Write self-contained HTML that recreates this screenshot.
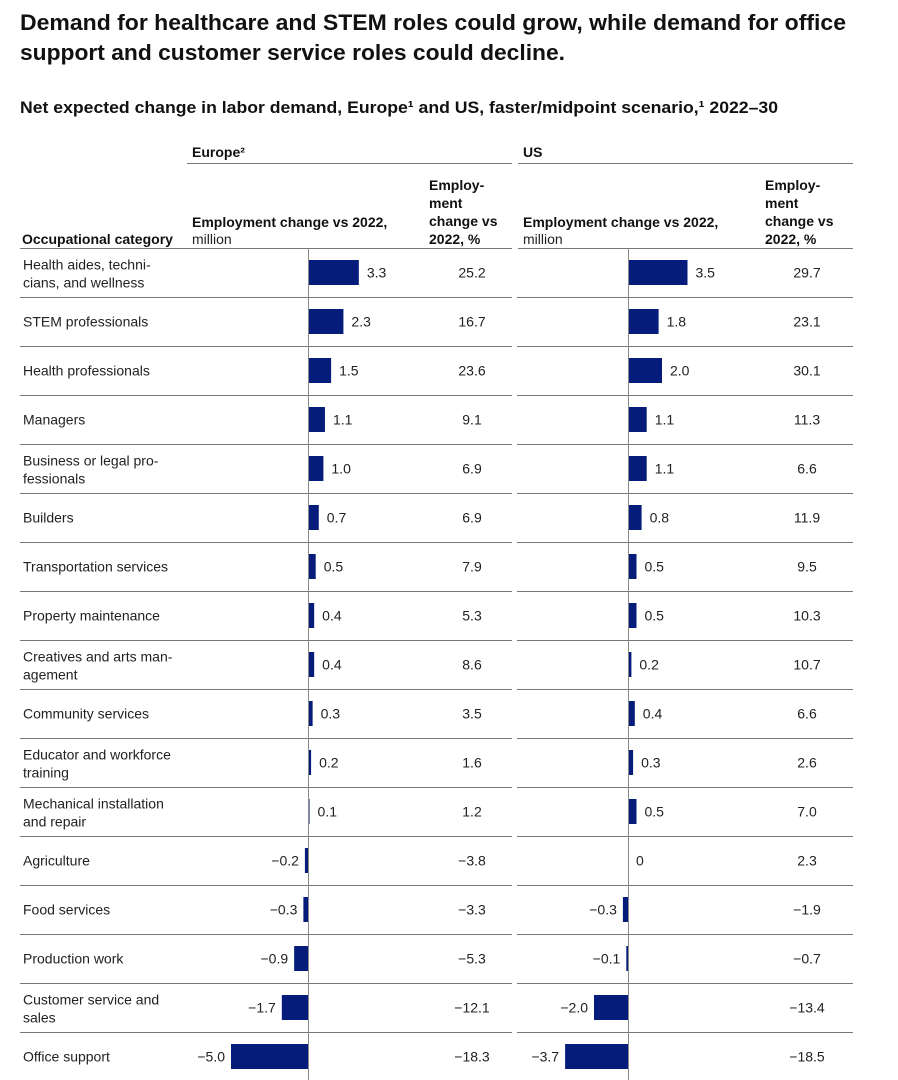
<!DOCTYPE html>
<html><head><meta charset="utf-8"><style>
html,body{margin:0;padding:0;background:#fff;}
svg{display:block;font-family:"Liberation Sans",Arial,sans-serif;}
</style></head><body>
<svg id="chart" width="898" height="1080" viewBox="0 0 898 1080">
<text x="20" y="30" font-size="22" font-weight="bold" fill="#111" textLength="826" lengthAdjust="spacingAndGlyphs">Demand for healthcare and STEM roles could grow, while demand for office</text>
<text x="20" y="60" font-size="22" font-weight="bold" fill="#111" textLength="545" lengthAdjust="spacingAndGlyphs">support and customer service roles could decline.</text>
<text x="20" y="113" font-size="17" font-weight="bold" fill="#111" textLength="758" lengthAdjust="spacingAndGlyphs">Net expected change in labor demand, Europe¹ and US, faster/midpoint scenario,¹ 2022–30</text>

<text x="192" y="157" font-size="14" font-weight="bold" fill="#111">Europe²</text>
<line x1="187" y1="163.5" x2="512" y2="163.5" stroke="#777"/>
<text x="523" y="157" font-size="14" font-weight="bold" fill="#111">US</text>
<line x1="518" y1="163.5" x2="853" y2="163.5" stroke="#777"/>

<text x="22" y="244" font-size="14" font-weight="bold" fill="#111">Occupational category</text>
<g>
<text x="192" y="227" font-size="14" font-weight="bold" fill="#111">Employment change vs 2022,</text>
<text x="192" y="244" font-size="14" fill="#222">million</text>
</g>
<g font-size="14" font-weight="bold" fill="#111">
<text x="429" y="190">Employ-</text><text x="429" y="208">ment</text><text x="429" y="226">change vs</text><text x="429" y="244">2022, %</text>
</g>
<g>
<text x="523" y="227" font-size="14" font-weight="bold" fill="#111">Employment change vs 2022,</text>
<text x="523" y="244" font-size="14" fill="#222">million</text>
</g>
<g font-size="14" font-weight="bold" fill="#111">
<text x="765" y="190">Employ-</text><text x="765" y="208">ment</text><text x="765" y="226">change vs</text><text x="765" y="244">2022, %</text>
</g>
<g id="rows"></g>
</svg>
<script>
const categories = [
 ["Health aides, techni-","cians, and wellness"],["STEM professionals"],["Health professionals"],["Managers"],
 ["Business or legal pro-","fessionals"],["Builders"],["Transportation services"],["Property maintenance"],
 ["Creatives and arts man-","agement"],["Community services"],["Educator and workforce","training"],
 ["Mechanical installation","and repair"],["Agriculture"],["Food services"],["Production work"],
 ["Customer service and","sales"],["Office support"]];
const europeAbs = [3.3,2.3,1.5,1.1,1.0,0.7,0.5,0.4,0.4,0.3,0.2,0.1,-0.2,-0.3,-0.9,-1.7,-5.0];
const europePct = [25.2,16.7,23.6,9.1,6.9,6.9,7.9,5.3,8.6,3.5,1.6,1.2,-3.8,-3.3,-5.3,-12.1,-18.3];
const usAbs = [3.5,1.8,2.0,1.1,1.1,0.8,0.5,0.5,0.2,0.4,0.3,0.5,0,-0.3,-0.1,-2.0,-3.7];
const usPct = [29.7,23.1,30.1,11.3,6.6,11.9,9.5,10.3,10.7,6.6,2.6,7.0,2.3,-1.9,-0.7,-13.4,-18.5];

const NS="http://www.w3.org/2000/svg";
const g=document.getElementById('rows');
const top0=248, rowH=49, barH=25;
const euZero=308, euScale=15.4, usZero=628, usScale=17;
const xEu=v=>euZero+v*euScale, xUs=v=>usZero+v*usScale;
const fmt=v=>(v<0?'\u2212':'')+Math.abs(v).toFixed(1).replace(/^0\.0$/,'0');
function el(tag,attrs,parent){const e=document.createElementNS(NS,tag);for(const k in attrs)e.setAttribute(k,attrs[k]);(parent||g).appendChild(e);return e;}
function txt(x,y,s,anchor,name){const t=el('text',{x:x,y:y,'font-size':14,fill:'#222','text-anchor':anchor||'start'});t.textContent=s;


return t;}
// header bottom rules
const h1=el('line',{x1:20,y1:top0+0.5,x2:512,y2:top0+0.5,stroke:'#777'});


const h2=el('line',{x1:518,y1:top0+0.5,x2:853,y2:top0+0.5,stroke:'#777'});


function barLabel(x0,scaleFn,v,cy,name){
  const x=scaleFn(v);
  const b=el('rect',{x:Math.min(x,x0),y:cy-barH/2,width:Math.max(Math.abs(x-x0),v===0?0:1.5),height:barH,fill:'#051c7a'});
  
  
  const s=v===0?'0':fmt(v);
  if(v>=0) txt(Math.max(x,x0)+8,cy+5,s,'start',name+'-value');
  else txt(x-6,cy+5,s,'end',name+'-value');
}
categories.forEach((c,i)=>{
  const cy=top0+rowH*i+24.5;
  if(c.length===1) txt(23,cy+5,c[0],'start','category-label');
  else {txt(23,cy-3,c[0],'start','category-label');txt(23,cy+15,c[1],'start','category-label');}
  barLabel(euZero,xEu,europeAbs[i],cy,'europe');
  txt(472,cy+5,fmt(europePct[i]),'middle','europe-pct-value');
  barLabel(usZero,xUs,usAbs[i],cy,'us');
  txt(807,cy+5,fmt(usPct[i]),'middle','us-pct-value');
  if(i<categories.length-1){
    const y=top0+rowH*(i+1)+0.5;
    const l1=el('line',{x1:20,y1:y,x2:512,y2:y,stroke:'#777'});
    
    
    const l2=el('line',{x1:517,y1:y,x2:853,y2:y,stroke:'#777'});
    
    
  }
});
const a1=el('line',{x1:euZero+0.5,y1:top0,x2:euZero+0.5,y2:1080,stroke:'#888'});


const a2=el('line',{x1:usZero+0.5,y1:top0,x2:usZero+0.5,y2:1080,stroke:'#888'});


</script>
</body></html>
